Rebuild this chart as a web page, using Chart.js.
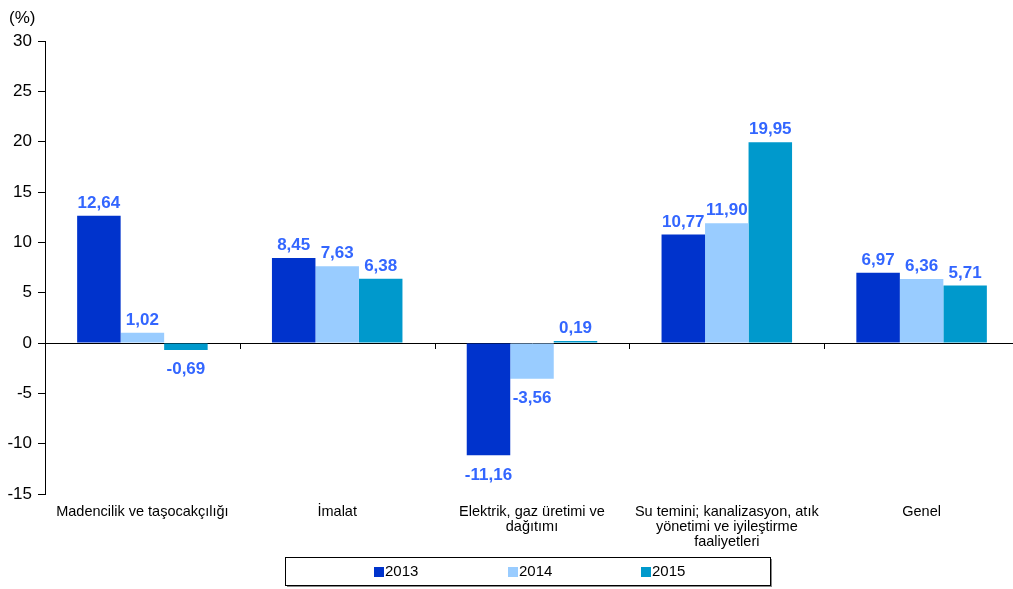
<!DOCTYPE html>
<html>
<head>
<meta charset="utf-8">
<script src="https://cdn.jsdelivr.net/npm/chart.js@4/dist/chart.umd.min.js"></script>
<style>
  html, body { margin: 0; padding: 0; background: #fff; overflow: hidden; }
  #wrap { position: relative; width: 1013px; height: 589px; overflow: hidden; }
</style>
</head>
<body>
<div id="wrap"><canvas id="barChart" width="1019" height="589"></canvas></div>
<script>
// Sektörel değişim oranları (%)
const categories = [
  "Madencilik ve taşocakçılığı",
  "İmalat",
  ["Elektrik, gaz üretimi ve", "dağıtımı"],
  ["Su temini; kanalizasyon, atık", "yönetimi ve iyileştirme", "faaliyetleri"],
  "Genel"
];
const years = ["2013", "2014", "2015"];
const values2013 = [12.64, 8.45, -11.16, 10.77, 6.97];
const values2014 = [1.02, 7.63, -3.56, 11.90, 6.36];
const values2015 = [-0.69, 6.38, 0.19, 19.95, 5.71];
const yTicks = [30, 25, 20, 15, 10, 5, 0, -5, -10, -15];
const unitLabel = "(%)";

const colors = ["#0033CC", "#99CCFF", "#0099CC"];
const labelColor = "#3366FF";
const fontFamily = "'Liberation Sans', Arial, sans-serif";

// Etiketler: pozitifte üstte, negatifte altta
const valueLabels = {
  id: "valueLabels",
  afterDatasetsDraw(chart) {
    const ctx = chart.ctx;
    ctx.save();
    ctx.font = "bold 17px " + fontFamily;
    ctx.fillStyle = labelColor;
    ctx.textAlign = "center";
    chart.data.datasets.forEach((ds, i) => {
      chart.getDatasetMeta(i).data.forEach((bar, j) => {
        const v = ds.data[j];
        const txt = v.toFixed(2).replace(".", ",");
        if (v >= 0) {
          ctx.textBaseline = "bottom";
          ctx.fillText(txt, bar.x, bar.y - 4);
        } else {
          ctx.textBaseline = "top";
          ctx.fillText(txt, bar.x, bar.y + 11);
        }
      });
    });
    ctx.restore();
  }
};

// Sıfır çizgisi üzerindeki kategori ayraçları, birim etiketi ve çerçeveli lejant
const decorations = {
  id: "decorations",
  afterDraw(chart) {
    const ctx = chart.ctx;
    const area = chart.chartArea;
    const y0 = chart.scales.y.getPixelForValue(0);
    const n = categories.length;
    const w = (area.right - area.left) / n;
    ctx.save();
    ctx.strokeStyle = "#000";
    ctx.lineWidth = 1;
    for (let i = 1; i < n; i++) {
      const x = Math.round(area.left + w * i) + 0.5;
      ctx.beginPath();
      ctx.moveTo(x, y0);
      ctx.lineTo(x, y0 + 6);
      ctx.stroke();
    }

    ctx.fillStyle = "#000";
    ctx.font = "17px " + fontFamily;
    ctx.textAlign = "left";
    ctx.textBaseline = "middle";
    ctx.fillText(unitLabel, 9, 18);

    // lejant
    const lx = 285, ly = 557, lw = 485, lh = 28;
    ctx.fillStyle = "#888";
    ctx.fillRect(lx + 2, ly + 2, lw, lh);
    ctx.fillStyle = "#fff";
    ctx.fillRect(lx, ly, lw, lh);
    ctx.strokeStyle = "#000";
    ctx.strokeRect(lx + 0.5, ly + 0.5, lw, lh);
    const itemX = [374, 508, 641];
    chart.data.datasets.forEach((ds, i) => {
      ctx.fillStyle = ds.backgroundColor;
      ctx.fillRect(itemX[i], ly + 10, 10, 10);
      ctx.fillStyle = "#000";
      ctx.font = "15px " + fontFamily;
      ctx.textBaseline = "middle";
      ctx.fillText(ds.label, itemX[i] + 11, ly + 15);
    });
    ctx.restore();
  }
};

const ctx = document.getElementById("barChart").getContext("2d");
new Chart(ctx, {
  type: "bar",
  data: {
    labels: categories,
    datasets: [
      { label: years[0], data: values2013, backgroundColor: colors[0] },
      { label: years[1], data: values2014, backgroundColor: colors[1] },
      { label: years[2], data: values2015, backgroundColor: colors[2] }
    ]
  },
  options: {
    responsive: false,
    animation: false,
    layout: { padding: { top: 41, right: 0, bottom: 0, left: 0 } },
    datasets: {
      bar: { categoryPercentage: 0.67, barPercentage: 1.0, borderWidth: 0 }
    },
    scales: {
      y: {
        min: -15,
        max: 30,
        afterFit: (s) => { s.width = 45; },
        afterBuildTicks: (s) => { s.ticks = yTicks.map((v) => ({ value: v })); },
        border: { display: true, color: "#000", width: 1 },
        grid: {
          drawOnChartArea: true,
          color: (c) => (c.tick && c.tick.value === 0 ? "#000" : "rgba(0,0,0,0)"),
          tickColor: "#000",
          tickLength: 7,
          lineWidth: 1
        },
        ticks: {
          color: "#000",
          font: { size: 17, family: fontFamily },
          padding: 6
        }
      },
      x: {
        afterFit: (s) => { s.height = 95; },
        border: { display: false },
        grid: { display: false },
        ticks: {
          color: "#000",
          font: { size: 14.5, family: fontFamily, lineHeight: 1.03 },
          padding: 3,
          maxRotation: 0,
          autoSkip: false
        }
      }
    },
    plugins: {
      legend: { display: false },
      tooltip: { enabled: false }
    }
  },
  plugins: [valueLabels, decorations]
});
</script>
</body>
</html>
